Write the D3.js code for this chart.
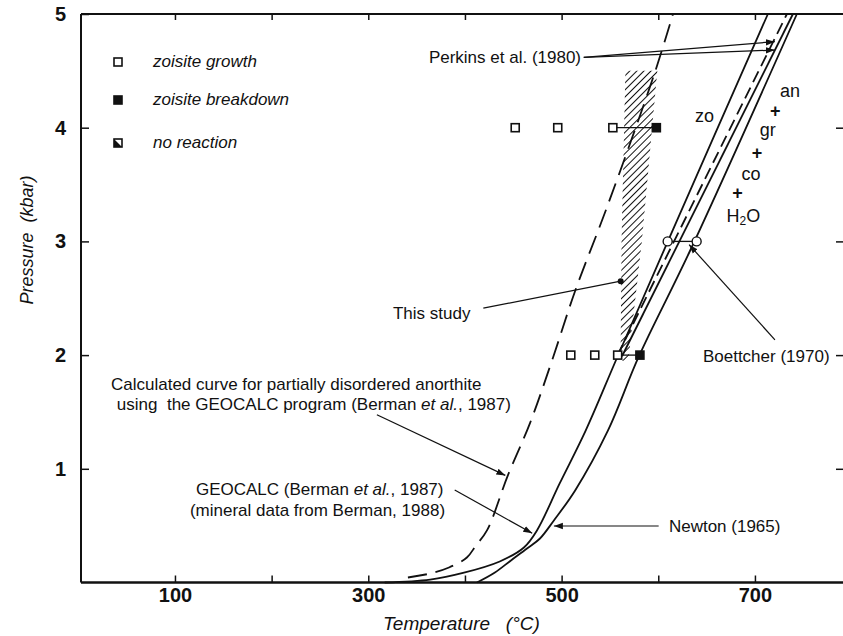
<!DOCTYPE html>
<html>
<head>
<meta charset="utf-8">
<script src="https://cdn.jsdelivr.net/npm/d3@7"></script>
<style>
  body { margin: 0; background: #fff; }
  svg { display: block; font-family: "Liberation Sans", Arial, Helvetica, sans-serif; }
  .lbl { font-size: 17px; fill: #111; }
  .tick text { font-size: 20px; font-weight: bold; fill: #111; }
</style>
</head>
<body>
<div id="chart"></div>
<script>
// axis ticks
const tempTicks = [100, 200, 300, 400, 500, 600, 700];
const tempLabels = [100, 300, 500, 700];
const pressTicks = [1, 2, 3, 4, 5];

// curves, [temperature °C, pressure kbar]
const geocalcCurve = [[317, 0], [364, 0.026], [398, 0.084], [436, 0.185], [461, 0.308], [474.5, 0.458],
  [498, 0.871], [525, 1.338], [558, 1.99], [615, 3.1], [713.4, 5.0]];
const newtonCurve = [[412.4, 0], [431, 0.088], [447.6, 0.194], [464.2, 0.299], [477.6, 0.387], [492, 0.546],
  [514, 0.81], [548, 1.338], [580, 1.99], [633, 2.92], [743.4, 5.0]];
const disorderedCurve = [[341, 0.044], [364, 0.079], [383.5, 0.132], [402, 0.22], [411.4, 0.326], [422.8, 0.458],
  [444.5, 0.944], [467.2, 1.40], [490, 1.95], [513.8, 2.56], [546.9, 3.30], [596.6, 4.49], [615.2, 5.0]];
const perkinsDashed = [[557.3, 1.99], [733.1, 5.0]];
const perkinsSolid = [[562.5, 1.99], [739.3, 5.0]];

// this study, hatched bracket
const bracketArea = [[566, 4.5], [599, 4.5], [583, 3.0], [569, 1.95], [561, 1.95], [562, 3.0]];

// experiments
const growthRuns = [[452, 4], [496, 4], [553, 4], [509.5, 2], [534.3, 2], [558, 2]];
const breakdownRuns = [[598, 4], [581, 2]];
const runBrackets = [[[553, 4], [598, 4]], [[558, 2], [581, 2]]];
const boettcherRuns = [[609.7, 3], [639.7, 3]];

const legendItems = ["zoisite growth", "zoisite  breakdown", "no  reaction"];

// reaction labels: text, temperature, pressure
const reactionLabels = [["zo", 638, 4.05], ["an", 725.9, 4.27], ["gr", 705.1, 3.927],
  ["co", 686.2, 3.54]];
const plusSigns = [[715.5, 4.094], [696.6, 3.729], [676.5, 3.373]];

const W = 843, H = 636;
const x = d3.scaleLinear().domain([0, 800]).range([78.3, 851.6]);
const y = d3.scaleLinear().domain([0, 5]).range([582.5, 14]);
const left = 81, right = W;

const svg = d3.select("#chart").append("svg")
  .attr("width", W).attr("height", H);

svg.append("rect").attr("width", W).attr("height", H).attr("fill", "#fff");

const defs = svg.append("defs");
defs.append("marker")
  .attr("id", "arrow")
  .attr("viewBox", "0 0 10 10")
  .attr("refX", 10).attr("refY", 5)
  .attr("markerWidth", 9).attr("markerHeight", 9)
  .attr("markerUnits", "userSpaceOnUse")
  .attr("orient", "auto")
  .append("path").attr("d", "M0,1.5L10,5L0,8.5Z").attr("fill", "#111");

const pat = defs.append("pattern")
  .attr("id", "hatch")
  .attr("patternUnits", "userSpaceOnUse")
  .attr("width", 5).attr("height", 5)
  .attr("patternTransform", "rotate(45)");
pat.append("line").attr("x1", 0).attr("y1", 0).attr("x2", 0).attr("y2", 5)
  .attr("stroke", "#111").attr("stroke-width", 2);

// frame
svg.append("line").attr("x1", left).attr("x2", right).attr("y1", y(5)).attr("y2", y(5))
  .attr("stroke", "#111").attr("stroke-width", 2);
svg.append("line").attr("x1", left).attr("x2", right).attr("y1", y(0)).attr("y2", y(0))
  .attr("stroke", "#111").attr("stroke-width", 2.5);
svg.append("line").attr("x1", left).attr("x2", left).attr("y1", y(5)).attr("y2", y(0))
  .attr("stroke", "#111").attr("stroke-width", 2);

// axes
svg.append("g")
  .attr("transform", `translate(0,${y(0)})`)
  .call(d3.axisBottom(x).tickValues(tempTicks).tickSize(-7).tickPadding(5)
    .tickFormat(d => tempLabels.includes(d) ? d : ""));
svg.append("g")
  .attr("transform", `translate(0,${y(5)})`)
  .call(d3.axisTop(x).tickValues(tempTicks).tickSize(-6).tickFormat(""));
svg.append("g")
  .attr("transform", `translate(${left},0)`)
  .call(d3.axisLeft(y).tickValues(pressTicks).tickSize(-8).tickPadding(15)
    .tickFormat(d3.format("d")));
svg.append("g")
  .attr("transform", `translate(${right},0)`)
  .call(d3.axisRight(y).tickValues([1, 2, 3, 4]).tickSize(-7).tickFormat(""));
svg.selectAll(".domain").remove();
svg.selectAll(".tick line").attr("stroke", "#111").attr("stroke-width", 1.5);

svg.append("text").attr("class", "lbl")
  .attr("x", 383).attr("y", 630)
  .style("font-style", "italic").style("font-size", "19px")
  .text("Temperature\u00a0\u00a0\u00a0(°C)");
svg.append("text").attr("class", "lbl")
  .attr("transform", "translate(33,240) rotate(-90)")
  .attr("text-anchor", "middle")
  .style("font-style", "italic").style("font-size", "18px")
  .text("Pressure\u00a0\u00a0(kbar)");

// hatched area
svg.append("path")
  .datum(bracketArea)
  .attr("d", d3.line().x(d => x(d[0])).y(d => y(d[1])).curve(d3.curveLinearClosed))
  .attr("fill", "url(#hatch)").attr("stroke", "none");

// curves
const line = d3.line().x(d => x(d[0])).y(d => y(d[1])).curve(d3.curveCatmullRom.alpha(0.5));
const curves = [
  { data: geocalcCurve, dash: null },
  { data: newtonCurve, dash: null },
  { data: disorderedCurve, dash: "19,9" },
  { data: perkinsDashed, dash: "12,6" },
  { data: perkinsSolid, dash: null }
];
svg.append("g").selectAll("path")
  .data(curves)
  .enter().append("path")
  .attr("d", d => line(d.data))
  .attr("fill", "none").attr("stroke", "#111").attr("stroke-width", 1.8)
  .attr("stroke-dasharray", d => d.dash);

// experiment brackets
svg.append("g").selectAll("line")
  .data(runBrackets.concat([boettcherRuns]))
  .enter().append("line")
  .attr("x1", d => x(d[0][0])).attr("x2", d => x(d[1][0]))
  .attr("y1", d => y(d[0][1])).attr("y2", d => y(d[1][1]))
  .attr("stroke", "#111").attr("stroke-width", 1.3);

const sq = 8;
svg.append("g").selectAll("rect")
  .data(growthRuns)
  .enter().append("rect")
  .attr("x", d => x(d[0]) - sq / 2).attr("y", d => y(d[1]) - sq / 2)
  .attr("width", sq).attr("height", sq)
  .attr("fill", "#fff").attr("stroke", "#111").attr("stroke-width", 1.6);
svg.append("g").selectAll("rect")
  .data(breakdownRuns)
  .enter().append("rect")
  .attr("x", d => x(d[0]) - sq / 2).attr("y", d => y(d[1]) - sq / 2)
  .attr("width", sq).attr("height", sq)
  .attr("fill", "#111").attr("stroke", "#111").attr("stroke-width", 1.6);
svg.append("g").selectAll("circle")
  .data(boettcherRuns)
  .enter().append("circle")
  .attr("cx", d => x(d[0])).attr("cy", d => y(d[1])).attr("r", 4.5)
  .attr("fill", "#fff").attr("stroke", "#111").attr("stroke-width", 1.4);

// legend
const lg = svg.append("g").selectAll("g")
  .data(legendItems)
  .enter().append("g")
  .attr("transform", (d, i) => `translate(118,${[62, 100, 143][i]})`);
lg.append("rect")
  .attr("x", -4).attr("y", -4).attr("width", 8).attr("height", 8)
  .attr("fill", (d, i) => i === 1 ? "#111" : "#fff")
  .attr("stroke", "#111").attr("stroke-width", 1.6);
lg.filter((d, i) => i === 2).append("path")
  .attr("d", "M-4,-4L4,4L-4,4Z").attr("fill", "#111");
lg.append("text").attr("class", "lbl")
  .attr("x", 35).attr("y", 5)
  .style("font-style", "italic")
  .text(d => d);

// annotations
function leader(from, to, arrow) {
  svg.append("line")
    .attr("x1", x(from[0])).attr("y1", y(from[1]))
    .attr("x2", x(to[0])).attr("y2", y(to[1]))
    .attr("stroke", "#111").attr("stroke-width", 1.2)
    .attr("marker-end", arrow ? "url(#arrow)" : null);
}
function label(txt, t, p, size) {
  return svg.append("text").attr("class", "lbl")
    .attr("x", x(t)).attr("y", y(p))
    .style("font-size", (size || 17) + "px")
    .text(txt);
}

label("Perkins et al. (1980)", 362.7, 4.569);
leader([522.9, 4.618], [720.6, 4.757], true);
leader([522.9, 4.618], [720.6, 4.683], true);

label("This study", 325.5, 2.32);
leader([419, 2.413], [561.1, 2.65], false);
svg.append("circle").attr("cx", x(561.1)).attr("cy", y(2.65)).attr("r", 3).attr("fill", "#111");

label("Boettcher (1970)", 646.2, 1.941);
leader([720.7, 2.134], [631.9, 2.971], true);

label("Calculated curve for partially disordered anorthite", 33.8, 1.695);
const c2 = label("using\u00a0 the GEOCALC program (Berman ", 39.9, 1.519);
c2.append("tspan").style("font-style", "italic").text("et al.");
c2.append("tspan").text(", 1987)");
leader([308.9, 1.475], [441.8, 0.942], true);

const g1 = label("GEOCALC (Berman ", 121.7, 0.770);
g1.append("tspan").style("font-style", "italic").text("et al.");
g1.append("tspan").text(", 1987)");
label("(mineral data from Berman, 1988)", 115.5, 0.585);
leader([389.4, 0.814], [469.6, 0.433], true);

label("Newton (1965)", 611, 0.444);
leader([600.4, 0.497], [492, 0.497], true);

// reaction labels
reactionLabels.forEach(d => label(d[0], d[1], d[2], 18));
plusSigns.forEach(d => label("+", d[0], d[1], 18).style("font-weight", "bold"));
const h2o = label("H", 670.7, 3.173, 18);
h2o.append("tspan").style("font-size", "12px").attr("dy", 3).text("2");
h2o.append("tspan").attr("dy", -3).text("O");
</script>
</body>
</html>
